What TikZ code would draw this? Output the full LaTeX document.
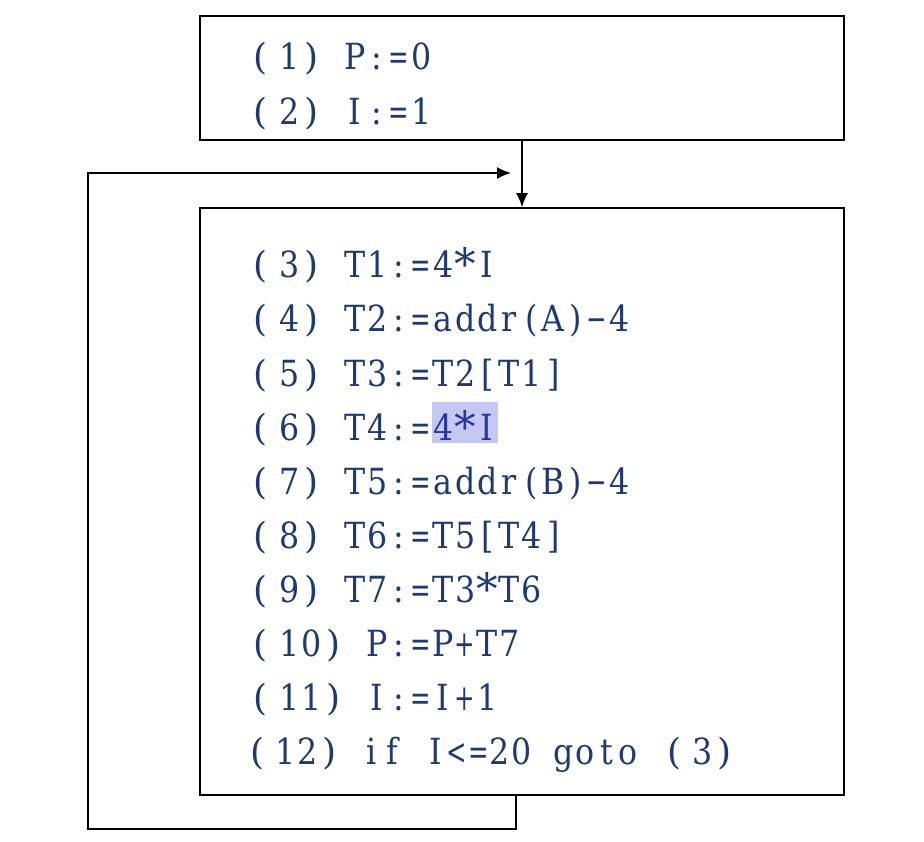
\documentclass[tikz,border=0pt]{standalone}
\usepackage{fontspec}
\usetikzlibrary{arrows.meta}
\newfontfamily\codefont{DejaVu Serif}
\definecolor{txt}{RGB}{31,58,110}
\definecolor{hlbg}{RGB}{198,200,244}
\definecolor{hltxt}{RGB}{38,56,158}
\newlength\cw
\setlength\cw{22pt}
\def\monoend{\monoend}
\newcommand\astr{\raisebox{-2pt}{\scalebox{1.2}{*}}}
\newcommand\nar[1]{\scalebox{0.68}[1]{#1}}
\newcommand\reg[1]{\scalebox{0.88}[1]{#1}}
\def\monoB#1{\makebox[\cw][c]{\ifx#1*\astr\else\ifx#1=\nar{=}\else\ifx#1<\nar{<}\else\ifx#1+\nar{+}\else\ifx#1−\nar{−}\else\reg{#1}\fi\fi\fi\fi\fi}}
\def\monoA#1{\ifx#1\monoend\else\monoB#1\expandafter\monoA\fi}
\def\mono#1{\monoA#1\monoend}
\newcommand\lab[1]{\makebox[2\cw][r]{(\hspace{0.5\cw}}\mono{#1}\makebox[2\cw][l]{\hspace{0.2\cw})}}
\newcommand\hl[1]{\rlap{\textcolor{hlbg}{\rule[-3pt]{3\cw}{41pt}}}{\color{hltxt}\mono{#1}}}
\tikzset{
  blockbox/.style={draw=black, line width=1.5pt, rectangle, inner sep=0pt},
  codeline/.style={anchor=base west, inner sep=0pt, text=txt, font=\codefont\fontsize{36}{42}\selectfont},
  conn/.style={draw=black, line width=1.8pt},
  arr/.style={conn, -{Latex[length=14pt,width=12pt]}}
}
\begin{document}
\begin{tikzpicture}[x=1pt,y=-1pt]
\useasboundingbox (0,0) rectangle (924,842);
\node[blockbox, minimum width=644pt, minimum height=124pt] (top) at (522,78) {};
\node[blockbox, minimum width=644pt, minimum height=587pt] (body) at (522,501.5) {};
\coordinate (loopend) at (511,173);
% code lines
\node[codeline] (l1) at (234,70) {\lab{1}\mono{P:=0}};
\node[codeline] (l2) at (234,125) {\lab{2}\mono{I:=1}};
\node[codeline] (l3) at (234,278) {\lab{3}\mono{T1:=4*I}};
\node[codeline] (l4) at (234,332) {\lab{4}\mono{T2:=addr(A)−4}};
\node[codeline] (l5) at (234,386) {\lab{5}\mono{T3:=T2[T1]}};
\node[codeline] (l6) at (234,440) {\lab{6}\mono{T4:=}\hl{4*I}};
\node[codeline] (l7) at (234,494) {\lab{7}\mono{T5:=addr(B)−4}};
\node[codeline] (l8) at (234,548) {\lab{8}\mono{T6:=T5[T4]}};
\node[codeline] (l9) at (234,602) {\lab{9}\mono{T7:=T3*T6}};
\node[codeline] (l10) at (234,656) {\lab{10}\mono{P:=P+T7}};
\node[codeline] (l11) at (234,710) {\lab{11}\mono{I:=I+1}};
\node[codeline] (l12) at (232,764) {\setlength\cw{21.4pt}\lab{12}\mono{if~I<=20~goto}\hspace{0.5\cw}\lab{3}};
% connectors
\draw[arr] (top.south) -- (body.north);
\draw[arr] ([xshift=-6pt]body.south) -- ++(0,33) -- ++(-428,0) |- (loopend);
\end{tikzpicture}
\end{document}
